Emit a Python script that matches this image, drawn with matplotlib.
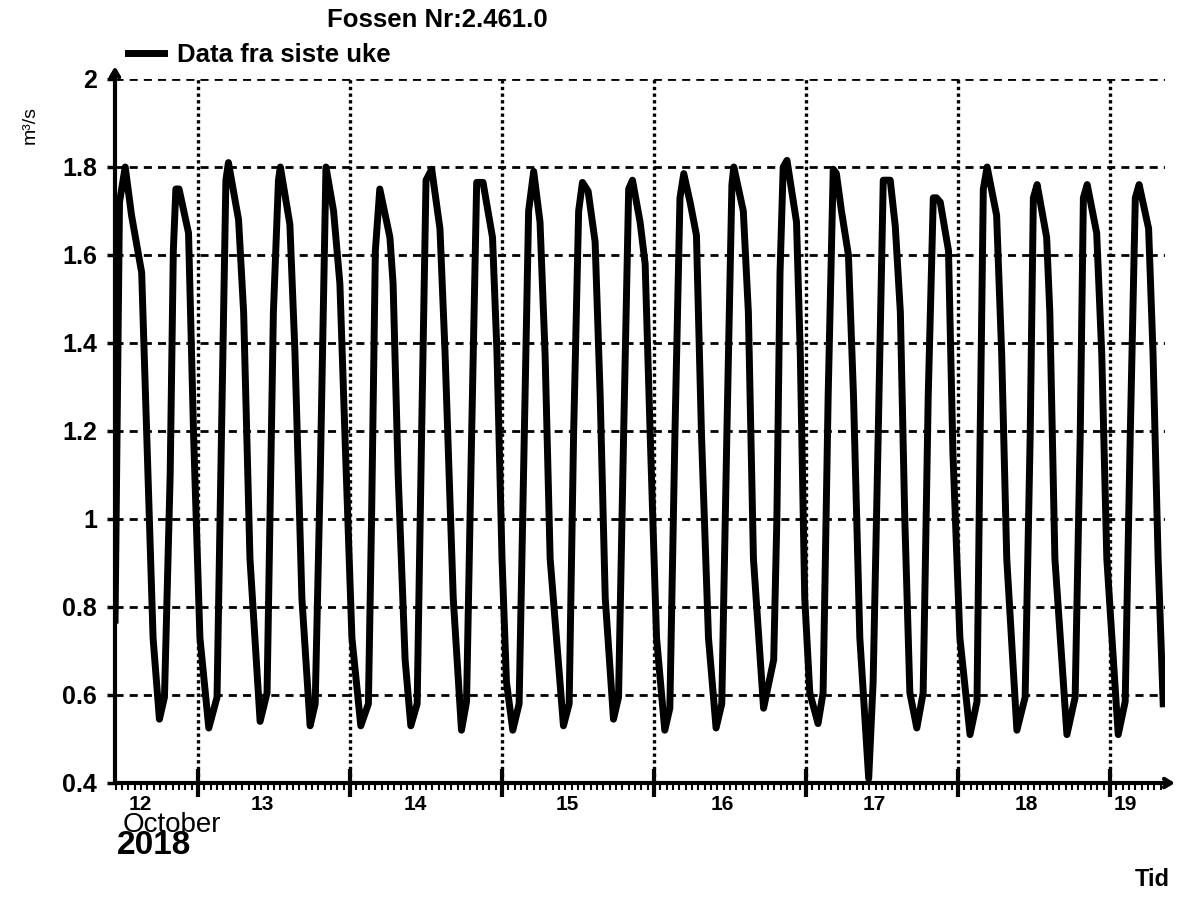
import matplotlib.pyplot as plt
from matplotlib.ticker import MultipleLocator, NullFormatter

# hours after 12 Oct 2018 00:00, and discharge in m3/s
hours = [10.9, 11.6, 12.5, 13.5, 15.1, 15.9, 16.9, 17.9, 18.7, 19.6,
         20.1, 20.5, 21.0, 22.5, 23.3, 24.3, 25.7, 27.0, 27.7, 28.4,
         28.8, 30.4, 31.2, 32.2, 33.8, 34.9, 35.9, 36.7, 37.0, 38.5,
         39.3, 40.4, 41.7, 42.5, 43.3, 44.2, 45.4, 46.4, 47.2, 48.3,
         49.7, 50.9, 51.4, 52.0, 52.7, 54.3, 54.8, 55.6, 56.7, 57.6,
         58.6, 59.3, 60.0, 60.9, 62.2, 63.0, 64.3, 65.6, 66.4, 67.2,
         68.0, 68.5, 69.0, 70.5, 71.2, 72.0, 72.7, 73.7, 74.7, 75.4,
         76.2, 77.0, 78.0, 78.8, 79.6, 81.7, 82.6, 83.3, 84.1, 84.7,
         85.6, 86.7, 87.5, 88.3, 89.6, 90.4, 91.2, 92.0, 92.6, 93.8,
         94.6, 95.4, 96.4, 97.7, 98.5, 99.3, 100.1, 100.7, 101.7, 102.7,
         103.5, 104.6, 105.8, 106.7, 107.5, 108.3, 108.6, 110.1, 110.9, 111.7,
         113.3, 114.9, 115.4, 115.9, 116.4, 117.0, 118.5, 119.1, 119.8, 120.6,
         121.9, 122.7, 123.5, 124.3, 124.8, 125.6, 126.7, 127.5, 128.5, 129.9,
         130.6, 131.4, 132.2, 132.8, 133.3, 134.1, 134.9, 135.6, 136.4, 137.5,
         138.5, 139.3, 140.1, 140.6, 141.2, 142.5, 143.2, 144.3, 145.9, 147.0,
         147.5, 148.0, 148.6, 150.1, 150.9, 151.7, 153.3, 154.6, 155.4, 155.9,
         156.5, 158.0, 158.5, 159.3, 161.2, 162.5, 163.3, 163.8, 164.4, 165.9,
         166.7, 167.5, 169.3, 170.4, 171.2, 172.0, 172.6, 174.1, 174.8, 175.6,
         176.4]
flow = [0.77, 1.72, 1.80, 1.69, 1.56, 1.19, 0.73, 0.545, 0.595, 1.10,
        1.61, 1.75, 1.75, 1.65, 1.19, 0.73, 0.525, 0.595, 1.19, 1.77,
        1.81, 1.68, 1.47, 0.91, 0.54, 0.605, 1.47, 1.77, 1.80, 1.67,
        1.38, 0.82, 0.53, 0.58, 1.10, 1.80, 1.70, 1.535, 1.19, 0.73,
        0.53, 0.58, 1.00, 1.61, 1.75, 1.64, 1.535, 1.10, 0.68, 0.53,
        0.58, 1.19, 1.77, 1.795, 1.66, 1.38, 0.82, 0.52, 0.585, 1.19,
        1.765, 1.765, 1.765, 1.64, 1.38, 0.91, 0.63, 0.52, 0.58, 1.10,
        1.70, 1.79, 1.675, 1.375, 0.91, 0.53, 0.58, 1.19, 1.70, 1.765,
        1.745, 1.63, 1.28, 0.82, 0.545, 0.595, 1.19, 1.75, 1.77, 1.675,
        1.58, 1.19, 0.73, 0.52, 0.57, 1.19, 1.73, 1.785, 1.72, 1.645,
        1.19, 0.73, 0.525, 0.58, 1.19, 1.76, 1.80, 1.70, 1.47, 0.91,
        0.57, 0.68, 1.00, 1.56, 1.80, 1.815, 1.675, 1.375, 0.82, 0.605,
        0.535, 0.605, 1.28, 1.795, 1.785, 1.70, 1.60, 1.28, 0.73, 0.41,
        0.63, 1.19, 1.77, 1.77, 1.77, 1.665, 1.47, 1.00, 0.605, 0.525,
        0.605, 1.28, 1.73, 1.73, 1.72, 1.61, 1.15, 0.73, 0.51, 0.585,
        1.19, 1.75, 1.80, 1.69, 1.375, 0.91, 0.52, 0.595, 1.19, 1.73,
        1.76, 1.64, 1.47, 0.91, 0.51, 0.595, 1.19, 1.73, 1.76, 1.65,
        1.375, 0.91, 0.51, 0.585, 1.19, 1.73, 1.76, 1.66, 1.375, 0.91,
        0.58]

day_labels = ['12', '13', '14', '15', '16', '17', '18', '19']
day_label_pos = [12.62, 13.42, 14.43, 15.43, 16.45, 17.45, 18.45, 19.10]
day_lines = [13, 14, 15, 16, 17, 18, 19]
y_ticks = [0.4, 0.6, 0.8, 1.0, 1.2, 1.4, 1.6, 1.8, 2.0]
y_ticklabels = ['0.4', '0.6', '0.8', '1', '1.2', '1.4', '1.6', '1.8', '2']

plt.rcParams['font.family'] = ['Liberation Sans', 'DejaVu Sans']
plt.rcParams['font.weight'] = 'bold'

fig = plt.figure(figsize=(12, 9), dpi=100)
ax = fig.add_axes([115 / 1200, 117 / 900, 1050 / 1200, 704 / 900])

x = [12 + h / 24 for h in hours]
line, = ax.plot(x, flow, color='black', linewidth=5, solid_joinstyle='round',
                label='Data fra siste uke', zorder=3)

ax.set_xlim(12.4537, 19.362)
ax.set_ylim(0.4, 2.0)

# grid
for y in y_ticks[1:]:
    ax.axhline(y, color='black', linewidth=2, linestyle=(0, (2.9, 2.2)), zorder=1)
for d in day_lines:
    ax.axvline(d, color='black', linewidth=2.4, linestyle=(0, (1, 1)), zorder=1)

# ticks
ax.set_yticks(y_ticks, y_ticklabels)
ax.tick_params(axis='y', direction='out', length=6, width=2.5, pad=7, labelsize=18)
ax.set_xticks(day_lines)
ax.xaxis.set_minor_locator(MultipleLocator(1 / 24))
ax.xaxis.set_minor_formatter(NullFormatter())
ax.tick_params(axis='x', which='major', direction='inout', length=20, width=3,
               labelbottom=False)
ax.tick_params(axis='x', which='minor', direction='out', length=5, width=1.5)

for s in ax.spines.values():
    s.set_visible(False)

# axis lines with arrow heads
arrow = dict(arrowstyle='->,head_length=0.5,head_width=0.3', lw=3, color='black',
             shrinkA=0, shrinkB=0)
ax.annotate('', xy=(1.0095, 0), xytext=(0, 0), xycoords='axes fraction',
            arrowprops=arrow, annotation_clip=False)
ax.annotate('', xy=(0, 1.018), xytext=(0, 0), xycoords='axes fraction',
            arrowprops=arrow, annotation_clip=False)

# day labels below the axis
tr = ax.get_xaxis_transform()
for pos, lab in zip(day_label_pos, day_labels):
    ax.text(pos, -0.031, lab, transform=tr, ha='center', va='center', fontsize=15)
ax.text(12.507, -0.06, 'October', transform=tr, ha='left', va='center',
        fontsize=20, fontweight='normal')
ax.text(12.467, -0.089, '2018', transform=tr, ha='left', va='center', fontsize=24)

fig.text(437 / 1200, 1 - 20 / 900, 'Fossen Nr:2.461.0', ha='center', va='center',
         fontsize=18.5)
fig.text(30 / 1200, 1 - 125 / 900, 'm³/s', rotation=90, ha='center', va='center',
         fontsize=14, fontweight='normal')
fig.text(1152 / 1200, 1 - 880 / 900, 'Tid', ha='center', va='center', fontsize=17)

fig.legend(handles=[line], loc='center left', bbox_to_anchor=(128 / 1200, 1 - 55 / 900),
           frameon=False, borderpad=0, borderaxespad=0, handlelength=1.4,
           handletextpad=0.5, fontsize=18.5)

fig.savefig('out.png', dpi=100)
